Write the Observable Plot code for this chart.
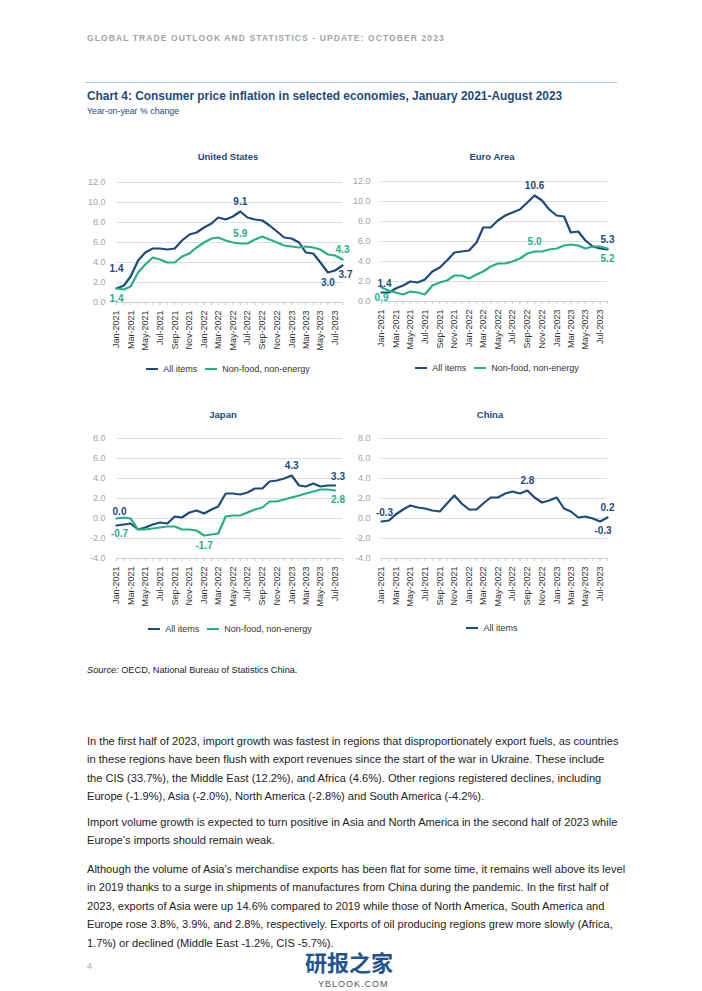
<!DOCTYPE html>
<html><head><meta charset="utf-8">
<script src="https://cdn.jsdelivr.net/npm/d3@7"></script>
<script src="https://cdn.jsdelivr.net/npm/@observablehq/plot@0.6"></script>
<style>
body{margin:0;background:#fff;font-family:"Liberation Sans",Arial,sans-serif;}
#page{position:relative;width:702px;height:991px;overflow:hidden;background:#fff;}
.abs{position:absolute;white-space:nowrap;}
.ptitle{font-size:9.5px;font-weight:bold;color:#1d4a7c;text-align:center;width:200px;line-height:12px;}
.legend{display:flex;align-items:center;justify-content:center;width:260px;font-size:9px;color:#333;line-height:12px;}
.legend .sw{display:inline-block;width:12px;height:2.5px;margin-right:5px;}
.legend .item{display:flex;align-items:center;margin:0 4px;}
.body{font-size:11.1px;line-height:18.6px;color:#222;}
</style></head><body><div id="page"></div>
<script>
// ---- data ----
const usAll  = [1.4,1.7,2.6,4.2,5.0,5.4,5.4,5.3,5.4,6.2,6.8,7.0, 7.5,7.9,8.5,8.3,8.6,9.1,8.5,8.3,8.2,7.7,7.1,6.5, 6.4,6.0,5.0,4.9,4.0,3.0,3.2,3.7];
const usCore = [1.4,1.3,1.6,3.0,3.8,4.5,4.3,4.0,4.0,4.6,4.9,5.5, 6.0,6.4,6.5,6.2,6.0,5.9,5.9,6.3,6.6,6.3,6.0,5.7, 5.6,5.5,5.6,5.5,5.3,4.8,4.7,4.3];
const euAll  = [0.9,0.9,1.3,1.6,2.0,1.9,2.2,3.0,3.4,4.1,4.9,5.0, 5.1,5.9,7.4,7.4,8.1,8.6,8.9,9.2,9.9,10.6,10.1,9.2, 8.6,8.5,6.9,7.0,6.1,5.5,5.3,5.2];
const euCore = [1.4,1.1,0.9,0.7,1.0,0.9,0.7,1.6,1.9,2.1,2.6,2.6, 2.3,2.7,3.0,3.5,3.8,3.8,4.0,4.3,4.8,5.0,5.0,5.2, 5.3,5.6,5.7,5.6,5.3,5.5,5.5,5.3];
const jpAll  = [-0.7,-0.6,-0.5,-1.1,-0.9,-0.6,-0.4,-0.5,0.2,0.1,0.6,0.8, 0.5,0.9,1.2,2.5,2.5,2.4,2.6,3.0,3.0,3.7,3.8,4.0, 4.3,3.3,3.2,3.5,3.2,3.3,3.3];
const jpCore = [0.0,0.1,0.0,-1.1,-1.1,-1.0,-0.9,-0.8,-0.8,-1.1,-1.1,-1.2, -1.7,-1.6,-1.5,0.2,0.3,0.3,0.6,0.9,1.1,1.7,1.7,1.9, 2.1,2.3,2.5,2.7,2.9,2.9,2.8];
const cnAll  = [-0.3,-0.2,0.4,0.9,1.3,1.1,1.0,0.8,0.7,1.5,2.3,1.5, 0.9,0.9,1.5,2.1,2.1,2.5,2.7,2.5,2.8,2.1,1.6,1.8, 2.1,1.0,0.7,0.1,0.2,0.0,-0.3,0.1];

const seriesNames = {all: "All items", core: "Non-food, non-energy"};
const yTicksHigh = [0,2,4,6,8,10,12];
const yTicksLow = [-4,-2,0,2,4,6,8];

const usLabels = [
  {series:"all", month:"2021-01", text:"1.4", pos:"aboveFar"},
  {series:"core", month:"2021-01", text:"1.4", pos:"below"},
  {series:"all", month:"2022-06", text:"9.1", pos:"above"},
  {series:"core", month:"2022-06", text:"5.9", pos:"above"},
  {series:"core", month:"2023-08", text:"4.3", pos:"above"},
  {series:"all", month:"2023-06", text:"3.0", pos:"below"},
  {series:"all", month:"2023-08", text:"3.7", pos:"belowRight"}
];
const euLabels = [
  {series:"all", month:"2021-01", text:"1.4", pos:"aboveRight"},
  {series:"core", month:"2021-01", text:"0.9", pos:"below"},
  {series:"all", month:"2022-10", text:"10.6", pos:"above"},
  {series:"core", month:"2022-10", text:"5.0", pos:"above"},
  {series:"all", month:"2023-08", text:"5.3", pos:"above"},
  {series:"core", month:"2023-08", text:"5.2", pos:"below"}
];
const jpLabels = [
  {series:"all", month:"2021-01", text:"0.0", pos:"aboveFarRight"},
  {series:"core", month:"2021-01", text:"-0.7", pos:"belowFarRight"},
  {series:"core", month:"2022-01", text:"-1.7", pos:"below"},
  {series:"all", month:"2023-01", text:"4.3", pos:"above"},
  {series:"all", month:"2023-07", text:"3.3", pos:"aboveRight"},
  {series:"core", month:"2023-07", text:"2.8", pos:"belowRight"}
];
const cnLabels = [
  {series:"all", month:"2021-01", text:"-0.3", pos:"aboveRight"},
  {series:"all", month:"2022-09", text:"2.8", pos:"above"},
  {series:"all", month:"2023-08", text:"0.2", pos:"above"},
  {series:"all", month:"2023-07", text:"-0.3", pos:"belowRight"}
];

// ---- rendering ----
const colors = {all: "#1d4a7c", core: "#27b088"};
const offsets = {
  above:{dx:0,dy:-10}, below:{dx:0,dy:10}, aboveFar:{dx:0,dy:-20},
  aboveRight:{dx:3,dy:-9}, belowRight:{dx:3,dy:9},
  aboveFarRight:{dx:3,dy:-14}, belowFarRight:{dx:3,dy:15}
};
// Jan 2021 .. Aug 2023 (32 months)
const months = d3.utcMonth.range(new Date(Date.UTC(2021,0,1)), new Date(Date.UTC(2023,7,2)));
const monthIdx = m => { const [y,mo] = m.split("-").map(Number); return (y-2021)*12 + (mo-1); };
const page = document.getElementById("page");

function addDiv(html, cls, style) {
  const d = document.createElement("div");
  d.className = "abs " + (cls||"");
  d.innerHTML = html;
  Object.assign(d.style, style);
  page.appendChild(d);
  return d;
}

function panel({title, left, top, titleX, titleY, ticks, series, labels, legendX, legendY}) {
  const W = 267, H = 190;
  const domain = [ticks[0], ticks[ticks.length-1]];
  const lines = series.map(s => Plot.lineY(s.values.map((v,i)=>({date: months[i], value: v})),
      {x:"date", y:"value", stroke: colors[s.key], strokeWidth: 2.2}));
  const texts = labels.map(l => {
    const s = series.find(s => s.key === l.series);
    const i = monthIdx(l.month);
    const o = offsets[l.pos];
    return Plot.text([{date: months[i], value: s.values[i], text: l.text}],
      {x:"date", y:"value", text:"text", dx:o.dx, dy:o.dy, fill: colors[l.series],
       fontSize: 10, fontWeight: "bold"});
  });
  const chart = Plot.plot({
    width: W, height: H, marginLeft: 31, marginRight: 10, marginTop: 12, marginBottom: 58,
    style: {fontFamily: "'Liberation Sans', Arial, sans-serif", background: "transparent", overflow: "visible"},
    x: {type: "utc", domain: [months[0], months[months.length-1]], label: null},
    y: {domain, label: null},
    marks: [
      Plot.gridY(ticks, {stroke: "#dedede", strokeOpacity: 1, strokeWidth: 1}),
      Plot.ruleY([domain[0]], {stroke: "#cfcfcf"}),
      Plot.axisY(ticks, {tickSize: 0, tickPadding: 11, tickFormat: d => d.toFixed(1), fontSize: 9, fill: "#a3a3a3", label: null}),
      Plot.axisX(months, {tickSize: 3, tickFormat: () => "", stroke: "#cfcfcf", label: null}),
      Plot.axisX(months.filter((d,i) => i % 2 === 0), {tickSize: 0, tickPadding: 8, tickRotate: -90,
        tickFormat: d3.utcFormat("%b-%Y"), fontSize: 9, fill: "#333", label: null}),
      ...lines,
      ...texts
    ]
  });
  chart.style.position = "absolute";
  chart.style.left = left + "px";
  chart.style.top = top + "px";
  page.appendChild(chart);
  addDiv(title, "ptitle", {left: (titleX-100)+"px", top: (titleY-6)+"px"});
  const items = series.map(s => `<span class="item"><span class="sw" style="background:${colors[s.key]}"></span>${seriesNames[s.key]}</span>`).join("");
  addDiv(items, "legend", {left: (legendX-130)+"px", top: (legendY-6)+"px"});
}

// header
addDiv("GLOBAL TRADE OUTLOOK AND STATISTICS - UPDATE: OCTOBER 2023", "", {left:"87px", top:"32px", fontSize:"8.5px", fontWeight:"bold", color:"#a3a3a3", letterSpacing:"1.1px", lineHeight:"12px"});
addDiv("", "", {left:"85px", top:"82px", width:"532px", height:"1px", background:"#a9c3d8"});
addDiv("Chart 4: Consumer price inflation in selected economies, January 2021-August 2023", "", {left:"87px", top:"88px", fontSize:"11.9px", fontWeight:"bold", color:"#1d4a7c", lineHeight:"16px"});
addDiv("Year-on-year % change", "", {left:"87px", top:"105px", fontSize:"8.8px", color:"#1d4a7c", lineHeight:"12px"});

panel({title:"United States", left:85, top:170, titleX:228, titleY:157, ticks:yTicksHigh,
  series:[{key:"all", values:usAll},{key:"core", values:usCore}], labels:usLabels, legendX:228, legendY:369});
panel({title:"Euro Area", left:350, top:169, titleX:492, titleY:157, ticks:yTicksHigh,
  series:[{key:"all", values:euAll},{key:"core", values:euCore}], labels:euLabels, legendX:497, legendY:368});
panel({title:"Japan", left:85, top:426, titleX:223, titleY:415, ticks:yTicksLow,
  series:[{key:"all", values:jpAll},{key:"core", values:jpCore}], labels:jpLabels, legendX:230, legendY:629});
panel({title:"China", left:350, top:426, titleX:490, titleY:415, ticks:yTicksLow,
  series:[{key:"all", values:cnAll}], labels:cnLabels, legendX:492, legendY:628});

addDiv("<i>Source:</i> OECD, National Bureau of Statistics China.", "", {left:"87px", top:"664px", fontSize:"9.2px", color:"#222", lineHeight:"12px"});

const paragraphs = [
  ["In the first half of 2023, import growth was fastest in regions that disproportionately export fuels, as countries",
   "in these regions have been flush with export revenues since the start of the war in Ukraine. These include",
   "the CIS (33.7%), the Middle East (12.2%), and Africa (4.6%). Other regions registered declines, including",
   "Europe (-1.9%), Asia (-2.0%), North America (-2.8%) and South America (-4.2%)."],
  ["Import volume growth is expected to turn positive in Asia and North America in the second half of 2023 while",
   "Europe’s imports should remain weak."],
  ["Although the volume of Asia’s merchandise exports has been flat for some time, it remains well above its level",
   "in 2019 thanks to a surge in shipments of manufactures from China during the pandemic. In the first half of",
   "2023, exports of Asia were up 14.6% compared to 2019 while those of North America, South America and",
   "Europe rose 3.8%, 3.9%, and 2.8%, respectively. Exports of oil producing regions grew more slowly (Africa,",
   "1.7%) or declined (Middle East -1.2%, CIS -5.7%)."]
];
const paraTops = [731.7, 812.7, 859.7];
paragraphs.forEach((lines, k) => addDiv(lines.join("<br>"), "body", {left:"87px", top: paraTops[k]+"px"}));

addDiv("4", "", {left:"87px", top:"960px", fontSize:"9px", color:"#aaa", lineHeight:"12px"});
addDiv("研报之家", "", {left:"305px", top:"950px", fontSize:"22px", fontWeight:"bold", color:"#23538f", lineHeight:"22px", fontFamily:"'Noto Sans CJK SC', sans-serif"});
addDiv("YBLOOK.COM", "", {left:"318px", top:"979px", fontSize:"9px", color:"#555", lineHeight:"10px", letterSpacing:"1px"});
</script>
</body></html>
